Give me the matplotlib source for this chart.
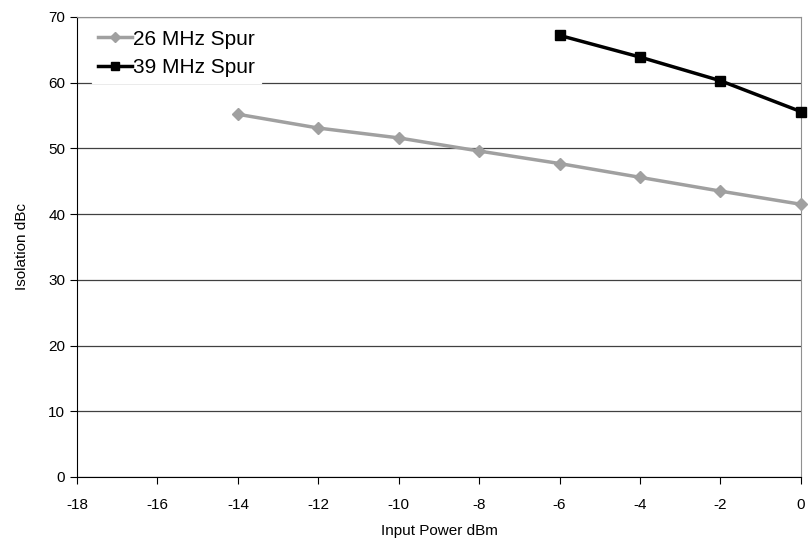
import matplotlib
matplotlib.use('agg')
import matplotlib.pyplot as plt
import numpy as np

plt.rcParams['font.family'] = ['Liberation Sans', 'DejaVu Sans']
plt.rcParams['axes.unicode_minus'] = False

x26 = [-14, -12, -10, -8, -6, -4, -2, 0]
y26 = [55.2, 53.1, 51.6, 49.6, 47.7, 45.6, 43.5, 41.5]
x39 = [-6, -4, -2, 0]
y39 = [67.2, 63.9, 60.3, 55.6]
xticks = [-18, -16, -14, -12, -10, -8, -6, -4, -2, 0]
yticks = [0, 10, 20, 30, 40, 50, 60, 70]

fig = plt.figure(figsize=(8.09, 5.41), dpi=100)
ax = fig.add_axes([0.0952, 0.1183, 0.8948, 0.8503])

ax.plot(x26, y26, color='#a0a0a0', lw=2.5, marker='D', ms=6,
        mfc='#a0a0a0', mec='#a0a0a0', label='26 MHz Spur', clip_on=False, zorder=3)
ax.plot(x39, y39, color='black', lw=2.5, marker='s', ms=7.5,
        mfc='black', mec='black', label='39 MHz Spur', clip_on=False, zorder=3)

ax.set_xlim(-18, 0)
ax.set_ylim(0, 70)
ax.set_xticks(xticks)
ax.set_yticks(yticks)
ax.yaxis.grid(True, color='#404040', lw=0.9)
ax.set_axisbelow(True)
ax.tick_params(labelsize=11, direction='out', length=5, color='black')
ax.tick_params(axis='x', pad=10)
for s in ['top', 'right']:
    ax.spines[s].set_color('#909090')
for s in ['left', 'bottom']:
    ax.spines[s].set_color('black')

ax.set_xlabel('Input Power dBm', fontsize=11, labelpad=9)
ax.set_ylabel('Isolation dBc', fontsize=11, labelpad=14)

leg = ax.legend(loc='upper left', bbox_to_anchor=(0.015, 0.995), frameon=True,
                fontsize=15, handlelength=1.6, handletextpad=0.05,
                borderaxespad=0.2, borderpad=0.3, labelspacing=0.45,
                markerscale=0.8, fancybox=False)
leg.get_frame().set_edgecolor('white')
leg.get_frame().set_facecolor('white')
leg.get_frame().set_alpha(1)

plt.savefig('out.png', dpi=100)
